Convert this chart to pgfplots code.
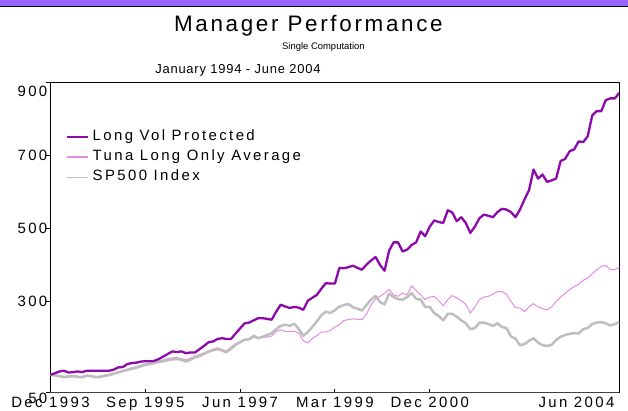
\documentclass[border=0pt]{standalone}
\usepackage{fontspec}
\setmainfont[LetterSpace=16]{Liberation Sans}
\newfontfamily\titlefont[LetterSpace=12]{Liberation Sans}
\newfontfamily\subfont{Liberation Sans}
\newfontfamily\datefont[LetterSpace=6]{Liberation Sans}
\usepackage{pgfplots}
\usepackage{pgfplotstable}
\pgfplotsset{compat=1.18}
\definecolor{lvp}{RGB}{140,10,170}
\definecolor{tuna}{RGB}{228,140,228}
\definecolor{spx}{RGB}{190,190,190}
\definecolor{band}{RGB}{153,102,255}

\pgfplotstableread{
m v
0 99
1 103
2 108
3 110
4 105
5 106
6 108
7 106
8 110
9 110
10 110
11 110
12 110
13 110
14 113
15 119
16 120
17 128
18 131
19 132
20 135
21 136
22 136
23 137
24 142
25 149
26 156
27 163
28 161
29 163
30 158
31 160
32 160
33 169
34 178
35 188
36 190
37 197
38 199
39 197
40 197
41 212
42 226
43 240
44 242
45 248
46 254
47 254
48 252
49 250
50 272
51 291
52 286
53 282
54 285
55 283
56 277
57 302
58 310
59 318
60 335
61 350
62 349
63 349
64 392
65 391
66 394
67 398
68 392
69 387
70 401
71 412
72 422
73 400
74 384
75 439
76 462
77 462
78 437
79 442
80 455
81 462
82 492
83 479
84 505
85 522
86 518
87 515
88 550
89 544
90 520
91 531
92 515
93 488
94 505
95 528
96 538
97 535
98 531
99 545
100 554
101 552
102 545
103 531
104 552
105 580
106 605
107 662
108 637
109 648
110 628
111 632
112 637
113 685
114 691
115 712
116 717
117 739
118 737
119 753
120 810
121 822
122 822
123 852
124 857
125 857
126 872
}\lvpdata

\pgfplotstableread{
m v
0 99
1 98
2 96
3 94
4 96
5 97
6 95
7 94
8 98
9 97
10 94
11 95
12 98
13 100
14 104
15 107
16 111
17 114
18 118
19 121
20 125
21 129
22 131
23 134
24 137
25 140
26 143
27 145
28 146
29 143
30 140
31 144
32 150
33 154
34 159
35 164
36 169
37 173
38 168
39 164
40 175
41 184
42 190
43 196
44 196
45 202
46 200
47 202
48 202
49 205
50 218
51 222
52 218
53 218
54 218
55 213
56 192
57 186
58 198
59 206
60 216
61 216
62 220
63 230
64 236
65 248
66 250
67 252
68 251
69 250
70 265
71 290
72 307
73 314
74 322
75 333
76 318
77 314
78 323
79 318
80 343
81 330
82 318
83 305
84 312
85 314
86 302
87 288
88 305
89 316
90 310
91 302
92 292
93 268
94 285
95 305
96 312
97 314
98 320
99 327
100 327
101 320
102 300
103 283
104 282
105 272
106 285
107 294
108 285
109 280
110 277
111 285
112 300
113 312
114 322
115 332
116 341
117 347
118 358
119 364
120 376
121 387
122 396
123 399
124 387
125 387
126 394
}\tunadata

\pgfplotstableread{
m v
0 99
1 97
2 95
3 92
4 94
5 95
6 93
7 92
8 96
9 95
10 92
11 93
12 96
13 98
14 102
15 105
16 109
17 112
18 115
19 118
20 122
21 126
22 128
23 131
24 134
25 136
26 139
27 141
28 142
29 140
30 135
31 140
32 147
33 150
34 156
35 162
36 166
37 169
38 165
39 161
40 170
41 181
42 188
43 195
44 196
45 206
46 199
47 203
48 208
49 213
50 224
51 233
52 236
53 233
54 239
55 224
56 206
57 216
58 230
59 245
60 262
61 272
62 268
63 276
64 286
65 290
66 293
67 284
68 280
69 275
70 290
71 305
72 315
73 298
74 292
75 321
76 312
77 306
78 305
79 312
80 323
81 307
82 305
83 285
84 285
85 268
86 260
87 248
88 266
89 266
90 258
91 248
92 240
93 224
94 227
95 242
96 242
97 238
98 233
99 240
100 230
101 227
102 204
103 198
104 180
105 183
106 192
107 199
108 187
109 180
110 178
111 181
112 194
113 203
114 208
115 211
116 213
117 212
118 224
119 227
120 238
121 242
122 243
123 240
124 234
125 238
126 243
}\spxdata

\begin{document}
\begin{tikzpicture}
\path[use as bounding box] (-50.5bp,-18.3bp) rectangle (577.7bp,392.7bp);
\fill[band] (-50.5bp,386.4bp) rectangle (577.7bp,392.7bp);
\draw[black, line width=1bp] (-50.5bp,385.9bp) -- (577.7bp,385.9bp);
\begin{axis}[
  at={(0,0)}, anchor=south west, scale only axis,
  width=569bp, height=310bp,
  xmin=0, xmax=126, ymin=50, ymax=900,
  axis line style={line width=0.8bp},
  tick align=inside, tick pos=left,
  major tick length=4bp,
  tick style={black, line width=0.8bp},
  ytick style={xshift=-4bp},
  xtick={0,21,42,63,84,126},
  xticklabels={Dec 1993, Sep 1995, Jun 1997, Mar 1999, Dec 2000, Jun 2004},
  ytick={50,300,500,700,900},
  /pgf/number format/assume math mode=true,
  every tick label/.append style={font=\fontsize{15}{17}\selectfont},
  yticklabel style={inner sep=0pt, xshift=-3bp,
    yshift={ifthenelse(\ticknum==0,-6,ifthenelse(\ticknum==4,-9,0))}},
  xticklabel style={inner sep=0pt, yshift=-4bp,
    xshift={ifthenelse(\ticknum==5,-43,0)}},
  legend cell align=left,
  legend style={at={(0.028,0.847)}, anchor=north west, draw=none, fill=none,
    inner sep=0pt, row sep=6.5bp, column sep=4bp,
    font=\fontsize{15}{17}\selectfont,
    nodes={inner sep=0pt, text height=10.5bp, text depth=3bp}},
]
\addplot[tuna, line width=1bp, line join=round, forget plot] table[x=m, y=v] {\tunadata};
\addplot[spx, line width=2.5bp, line join=round, forget plot] table[x=m, y=v] {\spxdata};
\addplot[lvp, line width=2.3bp, line join=round,
  legend image code/.code={\draw[lvp, line width=1.1bp] (0bp,0bp) -- (21bp,0bp);}] table[x=m, y=v] {\lvpdata};
\addlegendimage{legend image code/.code={\draw[tuna, line width=1.1bp] (0bp,0bp) -- (21bp,0bp);}}
\addlegendimage{legend image code/.code={\draw[spx, line width=0.9bp] (0bp,0bp) -- (21bp,0bp);}}
\legend{Long Vol Protected, Tuna Long Only Average, SP500 Index}
\end{axis}
\draw[line width=1.8bp, black!75] (0,0) -- (569bp,0);
\node[anchor=base, inner sep=0pt, font=\titlefont\fontsize{22.5}{26}\selectfont] at (258bp,360.7bp) {Manager Performance};
\node[anchor=base, inner sep=0pt, font=\subfont\fontsize{9.5}{11}\selectfont] at (273bp,343.2bp) {Single Computation};
\node[anchor=base, inner sep=0pt, font=\datefont\fontsize{13}{15}\selectfont] at (187.5bp,318.7bp) {January 1994 - June 2004};
\end{tikzpicture}
\end{document}
